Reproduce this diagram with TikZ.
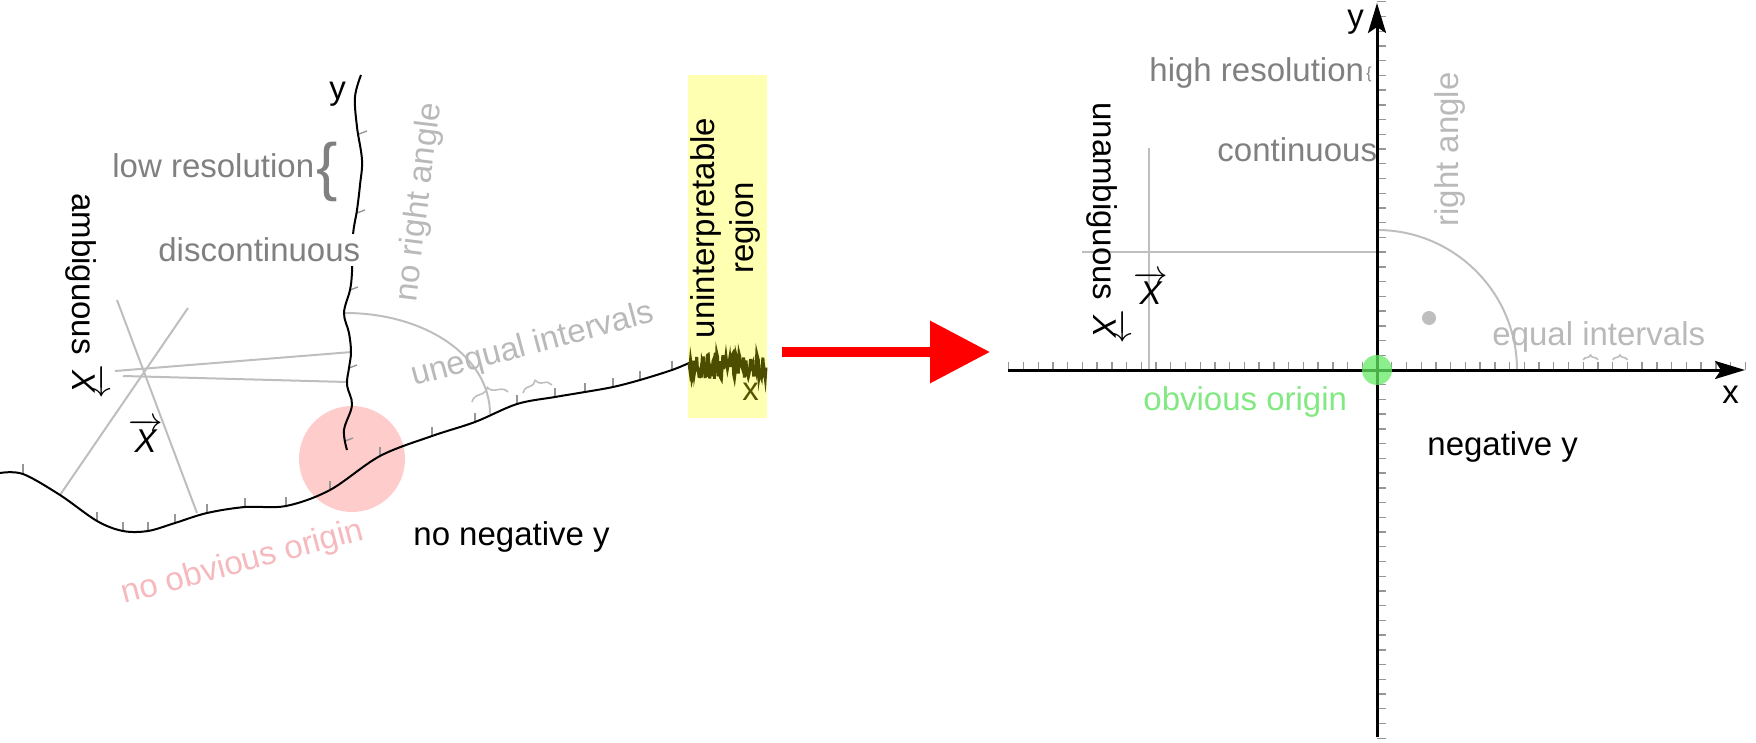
\documentclass[tikz,border=0pt]{standalone}
\usepackage{fontspec}
\setmainfont{Liberation Sans}
\usetikzlibrary{arrows.meta,decorations.pathreplacing}
\definecolor{midgray}{RGB}{128,128,128}
\definecolor{lightgraytext}{RGB}{185,185,185}
\definecolor{guidegray}{RGB}{190,190,190}
\definecolor{tickgray}{RGB}{150,150,150}
\definecolor{pinkfill}{RGB}{255,204,204}
\definecolor{pinktext}{RGB}{245,185,190}
\definecolor{greenfill}{RGB}{100,235,100}
\definecolor{greentext}{RGB}{130,232,130}
\definecolor{yellowfill}{RGB}{255,255,178}
\definecolor{olivedark}{RGB}{77,77,0}
\definecolor{olivetext}{RGB}{85,85,0}
\definecolor{dotgray}{RGB}{190,190,190}
\newcommand{\fsz}{\fontsize{16.5pt}{19.5pt}\selectfont}
\newcommand{\vecX}{$\overrightarrow{\mbox{\itshape X}}$}
\begin{document}
\begin{tikzpicture}[x=0.5pt,y=-0.5pt,
  lbl/.style={inner sep=0pt, anchor=base west, font=\fsz},
  guide/.style={draw=guidegray, line width=1pt},
  tickmark/.style={draw=tickgray, line width=0.7pt},
  wavyaxis/.style={draw=black, line width=1pt},
  straightaxis/.style={draw=black, line width=1.5pt, -{Stealth[length=15pt,width=9pt,inset=3pt]}},
  smallbrace/.style={draw=guidegray, line width=0.8pt, decorate, decoration={brace, amplitude=#1}},
]
\useasboundingbox (0,0) rectangle (1756,743);
% ---------------- left panel ----------------
\fill[pinkfill] (352,459) circle[radius=26.5pt];
\fill[yellowfill] (688,75) rectangle (767,418);
% skewed grid guides
\draw[guide] (117,300) -- (197,513);
\draw[guide] (188,308) -- (60,495);
\draw[guide] (115,371) -- (352,352);
\draw[guide] (123,376) -- (347,382);
% no right angle arc
\draw[guide] (345,313) .. controls (426,313) and (490,357) .. (490,414);
% ticks on wavy x axis
\foreach \tx/\ty in {23/473, 97/521, 123/531, 148/531, 175/523, 207/513, 245/507, 286/506, 330/490, 380/456, 432/436, 475/422, 517/404, 555/397, 585/392, 613/387, 640/380, 672/370}
  \draw[tickmark] ({\tx},{\ty}) -- ({\tx},{\ty-9});
% ticks on wavy y axis
\foreach \ax/\ay in {359/134, 357/213, 350/290, 349/368, 345/441}
  \draw[tickmark] ({\ax},{\ay}) -- ({\ax+8},{\ay-3});
% wavy x axis
\draw[wavyaxis] plot[smooth, tension=0.55] coordinates {(0,473) (23,474) (60,495) (97,521) (123,531) (148,531) (175,523) (207,513) (245,507) (286,506) (330,490) (380,456) (432,436) (475,422) (517,404) (555,397) (585,392) (613,387) (640,380) (672,370) (689,363)};
% noisy part
\pgfmathsetseed{7}
\draw[olivedark, line width=1.5pt] (689,363) \foreach \i in {1,...,100} { -- ({689+0.77*\i},{366+13*rand}) };
% wavy y axis
\draw[wavyaxis] plot[smooth, tension=0.6] coordinates {(361,75) (355,97) (357,127) (362,160) (360,185) (357,210) (353,235) (352,272) (350,290) (344,313) (349,333) (351,352) (349,368) (347,385) (352,405) (344,430) (347,450)};
% braces for unequal intervals
\draw[smallbrace=5pt] (472,402) -- (508,392);
\draw[smallbrace=4.5pt] (523,393) -- (552,385);
% left texts
\node[lbl] (ylabL) at (329,100) {y};
\node[lbl, text=midgray] (lowres) at (112,178) {low resolution};
\node[lbl, text=midgray, font=\fontsize{32pt}{32pt}\selectfont] (bigbrace) at (316,189) {\{};
\node[lbl, text=midgray, fill=white, inner sep=2pt] (discont) at (154,262) {discontinuous};
\node[lbl, rotate=-90] (ambig) at (72,193) {ambiguous \vecX};
\node[lbl] (xvecL) at (128,452) {\vecX};
\node[lbl, rotate=83, text=lightgraytext] (noright) at (416,303) {no right angle};
\node[lbl, rotate=15, text=lightgraytext] (unequal) at (414,386) {unequal intervals};
\node[lbl, rotate=15, text=pinktext] (noorigin) at (124,604) {no obvious origin};
\node[lbl] (noneg) at (413,545) {no negative y};
\node[inner sep=0pt, font=\fsz, rotate=90, align=center] (uninterp) at (725,228) {uninterpretable\\region};
\node[lbl, text=olivetext] (xlabL) at (742,400) {x};
% ---------------- arrow ----------------
\coordinate (arrowstart) at (782,352);
\coordinate (arrowend) at (990,352);
\draw[red, line width=5pt, -{Triangle[length=30pt,width=30pt]}] (arrowstart) -- (arrowend);
% ---------------- right panel ----------------
\coordinate (O) at (1377,370);
\coordinate (xstart) at (1008,370);
\coordinate (xend) at (1745,370);
\coordinate (ystart) at (1377,737);
\coordinate (yend) at (1377,3);
% guides
\draw[guide] (1082,252) -- (1377,252);
\draw[guide] (1149,148) -- (1149,370);
\draw[guide] (1377,230) .. controls (1454.3,230) and (1517,292.7) .. (1517,370);
\fill[dotgray] (1429,318) circle[radius=3.5pt];
% ticks
\foreach \k in {-25,...,25} {
  \draw[tickmark] ({1377+14.73*\k},370) -- ({1377+14.73*\k},362);
  \draw[tickmark] (1377,{370-14.73*\k}) -- (1386,{370-14.73*\k});
}
% axes
\draw[straightaxis] (xstart) -- (xend);
\draw[straightaxis] (ystart) -- (yend);
\fill[greenfill, opacity=0.75] (O) circle[radius=7.5pt];
% braces for equal intervals
\draw[smallbrace=2.5pt] ({1377+14.73*14},360) -- ({1377+14.73*15},360);
\draw[smallbrace=2.5pt] ({1377+14.73*16},360) -- ({1377+14.73*17},360);
% right texts
\node[lbl] (ylabR) at (1347,28) {y};
\node[lbl, text=midgray] (highres) at (1149,82) {high resolution};
\node[lbl, text=midgray, font=\fontsize{8pt}{8pt}\selectfont] (smallbr) at (1366,79) {\{};
\node[lbl, text=midgray] (cont) at (1217,162) {continuous};
\node[lbl, rotate=90, text=lightgraytext] (rightang) at (1458,227) {right angle};
\node[lbl, rotate=-90] (unambig) at (1093,102) {unambiguous \vecX};
\node[lbl] (xvecR) at (1133,305) {\vecX};
\node[lbl, text=lightgraytext] (equal) at (1492,345) {equal intervals};
\node[lbl, text=greentext] (origin) at (1143,410) {obvious origin};
\node[lbl] (negy) at (1427,455) {negative y};
\node[lbl] (xlabR) at (1722,403) {x};
\end{tikzpicture}
\end{document}
